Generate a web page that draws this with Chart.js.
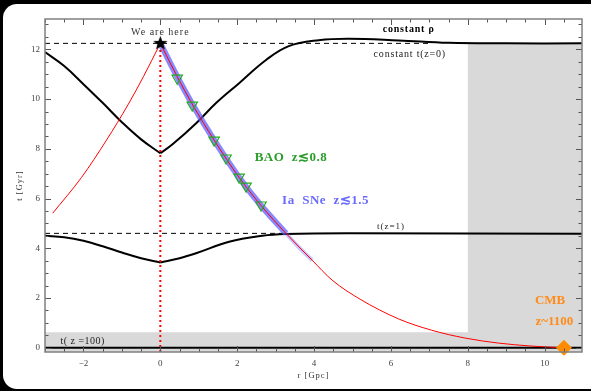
<!DOCTYPE html>
<html><head><meta charset="utf-8">
<script src="https://cdn.jsdelivr.net/npm/chart.js@4.4.1/dist/chart.umd.min.js"></script>
<style>
html,body{margin:0;padding:0;background:#000;width:591px;height:391px;overflow:hidden}
#panel{position:absolute;left:3px;top:4px;width:588px;height:385px;background:#fff;border-radius:14px 0 0 14px}
#wrap{position:absolute;left:0;top:0;width:591px;height:391px}
</style></head><body>
<div id="panel"></div>
<div id="wrap"><canvas id="c" width="591" height="391"></canvas></div>
<script>
// ---- data ----
const xTickValues = [-2, 0, 2, 4, 6, 8, 10];
const yTickValues = [0, 2, 4, 6, 8, 10, 12];

// constant-rho slice (thick black), split at the cusp r=0
const rhoLeftR  = [-3, -2.5, -2, -1.5, -1, -0.5, 0];
const rhoLeftT  = [11.89, 11.33, 10.6, 9.85, 9.07, 8.38, 7.82];
const rhoRightR = [0, 0.31, 0.94, 1.45, 2.05, 2.75, 3.34, 4.12, 4.9, 6.2, 7.5, 9, 10.97];
const rhoRightT = [7.82, 8.17, 9.04, 9.84, 10.64, 11.57, 12.13, 12.37, 12.43, 12.36, 12.26, 12.24, 12.24];

// t(z=1) slice (thick black)
const z1LeftR  = [-3, -2.5, -2, -1.5, -1, -0.5, 0];
const z1LeftT  = [4.5, 4.44, 4.3, 4.08, 3.83, 3.6, 3.43];
const z1RightR = [0, 0.5, 0.93, 1.79, 2.65, 3.26, 4.9, 10.97];
const z1RightT = [3.43, 3.6, 3.8, 4.26, 4.5, 4.57, 4.6, 4.58];

// past light cone (red)
const coneLeftR  = [-2.8, -2.05, -1.4, -0.83, -0.44, 0];
const coneLeftT  = [5.41, 6.85, 8.35, 9.8, 10.9, 12.24];
const coneRightR = [0, 0.44, 0.83, 1.4, 2.05, 2.62, 3.27, 3.95, 4.47, 5.2, 6.2, 7.05, 7.93, 8.79, 9.64, 10.5];
const coneRightT = [12.24, 10.9, 9.8, 8.35, 6.85, 5.72, 4.6, 3.52, 2.72, 1.95, 1.16, 0.71, 0.39, 0.19, 0.07, 0.0];

// Ia SNe band (blue)
const sneR = [0, 0.44, 0.83, 1.4, 2.05, 2.62, 3.27];
const sneT = [12.24, 10.9, 9.8, 8.35, 6.85, 5.72, 4.6];
const sneFaintR = [3.27, 3.6, 3.95];
const sneFaintT = [4.6, 4.05, 3.52];

// BAO points (green triangles)
const baoR = [0.44, 0.83, 1.40, 1.71, 2.05, 2.23, 2.62];
const baoT = [10.84, 9.76, 8.35, 7.63, 6.86, 6.50, 5.74];

// markers and levels
const hereR = [0], hereT = [12.24];
const cmbR = [10.5], cmbT = [0];
const t0Level = 12.24, tz1Level = 4.6, tz100Level = 0.62;
const rMin = -3, rMax = 10.97, tMin = -0.17, tMax = 13.22;
const shadeR = [rMin, 8, 8, rMax];
const shadeT = [tz100Level, tz100Level, t0Level, t0Level];

const pts = (xs, ys) => xs.map((x, i) => ({x, y: ys[i]}));

function makeStar(r) {
  const c = document.createElement('canvas');
  const s = Math.ceil(r * 2 + 2);
  c.width = c.height = s;
  const g = c.getContext('2d');
  g.beginPath();
  for (let i = 0; i < 10; i++) {
    const a = -Math.PI / 2 + i * Math.PI / 5;
    const rr = i % 2 ? r * 0.42 : r;
    g.lineTo(s / 2 + rr * Math.cos(a), s / 2 + rr * Math.sin(a));
  }
  g.closePath(); g.fillStyle = '#000'; g.fill();
  return c;
}

const SERIF = '"Liberation Serif", "DejaVu Serif", serif';
const fmt = v => (v < 0 ? '\u2212' + Math.abs(v) : String(v));

const labels = [
  {text: 'We are here', r: 0, t: 12.70, font: '10px ' + SERIF, color: '#333', ls: '1px'},
  {text: 'constant \u03C1', r: 6.46, t: 12.82, font: 'bold 10px ' + SERIF, color: '#000', ls: '0.8px'},
  {text: 'constant t(z=0)', r: 6.49, t: 11.81, font: '10px ' + SERIF, color: '#222', ls: '0.8px'},
  {text: 'BAO  z\u22720.8', r: 3.40, t: 7.63, font: 'bold 13px ' + SERIF, color: '#2a9d2a', ls: '0.5px'},
  {text: 'Ia  SNe  z\u22721.5', r: 4.30, t: 5.90, font: 'bold 13px ' + SERIF, color: '#6a6aff', ls: '0.5px'},
  {text: 't(z=1)', r: 6.0, t: 4.86, font: '9px ' + SERIF, color: '#222', ls: '1px'},
  {text: 't( z =100)', r: -2.02, t: 0.25, font: '10px ' + SERIF, color: '#222', ls: '0.5px'},
  {text: 'CMB', r: 10.14, t: 1.89, font: 'bold 13px ' + SERIF, color: '#ff8c1a', ls: '0px'},
  {text: 'z~1100', r: 10.25, t: 1.05, font: 'bold 13px ' + SERIF, color: '#ff8c1a', ls: '0px'}
];

const framePlugin = {
  id: 'frame',
  afterDatasetsDraw(chart) {
    const {ctx, scales: {x, y}} = chart;
    ctx.save();
    ctx.textAlign = 'center'; ctx.textBaseline = 'middle';
    labels.forEach(l => {
      ctx.font = l.font; ctx.fillStyle = l.color; ctx.letterSpacing = l.ls;
      ctx.fillText(l.text, x.getPixelForValue(l.r), y.getPixelForValue(l.t));
    });
    ctx.restore();
  },
  afterDraw(chart) {
    const {ctx, chartArea: a, scales: {x, y}} = chart;
    ctx.save();
    ctx.strokeStyle = '#555'; ctx.lineWidth = 1;
    ctx.beginPath();
    for (let v = -3; v <= 11.001; v += 0.5) {
      if (v < rMin || v > rMax) continue;
      const px = Math.round(x.getPixelForValue(v)) + 0.5;
      const len = (Math.abs(v % 2) < 1e-6) ? 6 : 3.5;
      ctx.moveTo(px, a.bottom); ctx.lineTo(px, a.bottom - len);
      ctx.moveTo(px, a.top); ctx.lineTo(px, a.top + len);
    }
    for (let v = 0; v <= 13.001; v += 0.5) {
      const py = Math.round(y.getPixelForValue(v)) + 0.5;
      const len = (Math.abs(v % 2) < 1e-6) ? 6 : 3.5;
      ctx.moveTo(a.left, py); ctx.lineTo(a.left + len, py);
      ctx.moveTo(a.right, py); ctx.lineTo(a.right - len, py);
    }
    ctx.stroke();
    ctx.strokeStyle = '#808080'; ctx.lineWidth = 1.5;
    ctx.strokeRect(a.left, a.top, a.right - a.left, a.bottom - a.top);
    ctx.fillStyle = '#333'; ctx.font = '8.5px ' + SERIF; ctx.letterSpacing = '1px';
    ctx.textAlign = 'center'; ctx.textBaseline = 'middle';
    ctx.fillText('r [Gpc]', (a.left + a.right) / 2, 376);
    ctx.translate(20, (a.top + a.bottom) / 2);
    ctx.rotate(-Math.PI / 2);
    ctx.fillText('t [Gyr]', 0, 0);
    ctx.restore();
  }
};

const black = {borderColor: '#000', borderWidth: 2, pointRadius: 0, tension: 0.4, fill: false};

new Chart(document.getElementById('c'), {
  type: 'line',
  data: {
    datasets: [
      {data: pts(shadeR, shadeT), borderWidth: 0, borderColor: 'rgba(0,0,0,0)', backgroundColor: '#d9d9d9', fill: 'start', pointRadius: 0, tension: 0, order: 20},
      {data: pts([rMin, 7], [t0Level, t0Level]), borderColor: '#000', borderWidth: 1, borderDash: [5, 4], pointRadius: 0, order: 15},
      {data: pts([rMin, 3.3], [tz1Level, tz1Level]), borderColor: '#000', borderWidth: 1, borderDash: [5, 4], pointRadius: 0, order: 15},
      {data: pts([rMin, rMax], [0, 0]), borderColor: '#000', borderWidth: 2, pointRadius: 0, order: 14},
      Object.assign({data: pts(rhoLeftR, rhoLeftT), order: 12}, black),
      Object.assign({data: pts(rhoRightR, rhoRightT), order: 12}, black),
      Object.assign({data: pts(z1LeftR, z1LeftT), order: 12}, black),
      Object.assign({data: pts(z1RightR, z1RightT), order: 12}, black),
      {data: pts(sneR, sneT), borderColor: 'rgba(90,90,255,0.72)', borderWidth: 6, pointRadius: 0, cubicInterpolationMode: 'monotone', order: 10},
      {data: pts(sneFaintR, sneFaintT), borderColor: 'rgba(110,110,255,0.4)', borderWidth: 4, pointRadius: 0, cubicInterpolationMode: 'monotone', order: 10},
      {data: pts(coneLeftR, coneLeftT), borderColor: '#ff0000', borderWidth: 1, pointRadius: 0, cubicInterpolationMode: 'monotone', order: 8},
      {data: pts(coneRightR, coneRightT), borderColor: '#ff0000', borderWidth: 1, pointRadius: 0, cubicInterpolationMode: 'monotone', order: 8},
      {data: pts([0, 0], [tMin, t0Level]), borderColor: '#ff0000', borderWidth: 2, borderDash: [2, 3], pointRadius: 0, order: 7},
      {type: 'scatter', data: pts(baoR, baoT), pointStyle: 'triangle', rotation: 180, pointRadius: 6, borderColor: '#22aa22', borderWidth: 1.2, backgroundColor: 'rgba(0,0,0,0)', order: 5},
      {type: 'scatter', data: pts(hereR, hereT), pointStyle: makeStar(7.5), pointRadius: 8, order: 3},
      {type: 'scatter', data: pts(cmbR, cmbT), pointStyle: 'rectRot', pointRadius: 8, backgroundColor: '#ff8c00', borderColor: '#ff8c00', borderWidth: 0, clip: false, order: 2}
    ]
  },
  options: {
    responsive: false, animation: false, events: [],
    layout: {padding: {left: 0, top: 19, right: 7, bottom: 0}},
    plugins: {legend: {display: false}, tooltip: {enabled: false}},
    scales: {
      x: {
        type: 'linear', min: rMin, max: rMax,
        grid: {display: false, drawTicks: false}, border: {display: false},
        afterBuildTicks: s => { s.ticks = xTickValues.map(v => ({value: v})); },
        afterFit: s => { s.height = 39; },
        ticks: {font: {family: SERIF, size: 9}, color: '#444', padding: 6, maxRotation: 0, autoSkip: false, callback: v => fmt(v)}
      },
      y: {
        type: 'linear', min: tMin, max: tMax,
        grid: {display: false, drawTicks: false}, border: {display: false},
        afterBuildTicks: s => { s.ticks = yTickValues.map(v => ({value: v})); },
        afterFit: s => { s.width = 45; },
        ticks: {font: {family: SERIF, size: 9}, color: '#444', padding: 5, autoSkip: false, callback: v => fmt(v)}
      }
    }
  },
  plugins: [framePlugin]
});
</script>
</body></html>
